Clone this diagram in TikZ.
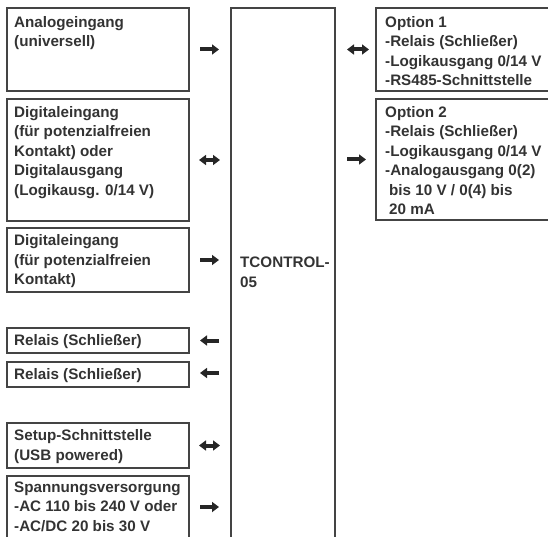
\documentclass[tikz,border=0pt]{standalone}
\usepackage{fontspec}
\setmainfont{Liberation Sans}
\usetikzlibrary{arrows.meta}
\definecolor{txtc}{HTML}{333333}
\definecolor{linec}{HTML}{444444}
\begin{document}
\begin{tikzpicture}[x=1pt,y=-1pt,
  box/.style={draw=linec, line width=1.1pt, rectangle, inner sep=0pt, outer sep=0pt},
  txt/.style={anchor=north west, inner sep=0pt, align=left, text=txtc,
    font=\fontsize{15.2}{19.5}\selectfont\bfseries},
  arr/.style={draw=black!85, line width=4pt, -{Triangle[length=7pt,width=10pt]}},
  darr/.style={draw=black!85, line width=4pt, {Triangle[length=7pt,width=10pt]}-{Triangle[length=7pt,width=10pt]}}
]
\useasboundingbox (0,0) rectangle (548,537);
\clip (0,0) rectangle (548,537);

% central box
\node[box, minimum width=104pt, minimum height=545pt] (ctrl) at (283,280.5) {};
\node[txt] (ctrltxt) at ([xshift=9pt, yshift=-249pt]ctrl.north west) {TCONTROL-\\05};

% left boxes
\node[box, minimum width=182pt, minimum height=83pt]  (b1) at (98,49.5)  {};
\node[box, minimum width=182pt, minimum height=122pt] (b2) at (98,160)   {};
\node[box, minimum width=182pt, minimum height=64pt]  (b3) at (98,260)   {};
\node[box, minimum width=182pt, minimum height=25pt]  (b4) at (98,340.5) {};
\node[box, minimum width=182pt, minimum height=25pt]  (b5) at (98,374.5) {};
\node[box, minimum width=182pt, minimum height=45pt]  (b6) at (98,445.5) {};
\node[box, minimum width=182pt, minimum height=62pt]  (b7) at (98,507)   {};

% right boxes
\node[box, minimum width=185pt, minimum height=83pt]  (o1) at (468.5,49.5)  {};
\node[box, minimum width=185pt, minimum height=121pt] (o2) at (468.5,159.5) {};

% texts
\node[txt] (t1) at ([xshift=7pt, yshift=-8pt]b1.north west) {Analogeingang\\(universell)};
\node[txt] (t2) at ([xshift=7pt, yshift=-7pt]b2.north west) {Digitaleingang\\(für potenzialfreien\\Kontakt) oder\\Digitalausgang\\(Logikausg. 0/14 V)};
\node[txt] (t3) at ([xshift=7pt, yshift=-6.5pt]b3.north west) {Digitaleingang\\(für potenzialfreien\\Kontakt)};
\node[txt] (t4) at ([xshift=7pt, yshift=-6.5pt]b4.north west) {Relais (Schließer)};
\node[txt] (t5) at ([xshift=7pt, yshift=-6.5pt]b5.north west) {Relais (Schließer)};
\node[txt] (t6) at ([xshift=7pt, yshift=-6.5pt]b6.north west) {Setup-Schnittstelle\\(USB powered)};
\node[txt] (t7) at ([xshift=7pt, yshift=-5.5pt]b7.north west) {Spannungsversorgung\\-AC 110 bis 240 V oder\\-AC/DC 20 bis 30 V};
\node[txt] (to1) at ([xshift=9pt, yshift=-8pt]o1.north west) {Option 1\\-Relais (Schließer)\\-Logikausgang 0/14 V\\-RS485-Schnittstelle};
\node[txt] (to2) at ([xshift=9pt, yshift=-7pt]o2.north west) {Option 2\\-Relais (Schließer)\\-Logikausgang 0/14 V\\-Analogausgang 0(2)\\\hspace*{4pt}bis 10 V / 0(4) bis\\\hspace*{4pt}20 mA};

% arrows left column
\draw[arr,  shorten <=11pt, shorten >=12pt] (b1.east) -- (b1.east -| ctrl.west);
\draw[darr, shorten <=10pt, shorten >=11pt] (b2.east) -- (b2.east -| ctrl.west);
\draw[arr,  shorten <=11pt, shorten >=12pt] (b3.east) -- (b3.east -| ctrl.west);
\draw[arr,  shorten <=12pt, shorten >=11pt] (b4.east -| ctrl.west) -- (b4.east);
\draw[arr,  shorten <=12pt, shorten >=11pt] ([yshift=1.5pt]b5.east -| ctrl.west) -- ([yshift=1.5pt]b5.east);
\draw[darr, shorten <=10pt, shorten >=11pt] (b6.east) -- (b6.east -| ctrl.west);
\draw[arr,  shorten <=11pt, shorten >=12pt] (b7.east) -- (b7.east -| ctrl.west);

% arrows right column
\draw[darr, shorten <=12pt, shorten >=7pt] (ctrl.east |- o1.west) -- (o1.west);
\draw[arr,  shorten <=12pt, shorten >=10pt] (ctrl.east |- o2.west) -- (o2.west);
\end{tikzpicture}
\end{document}
